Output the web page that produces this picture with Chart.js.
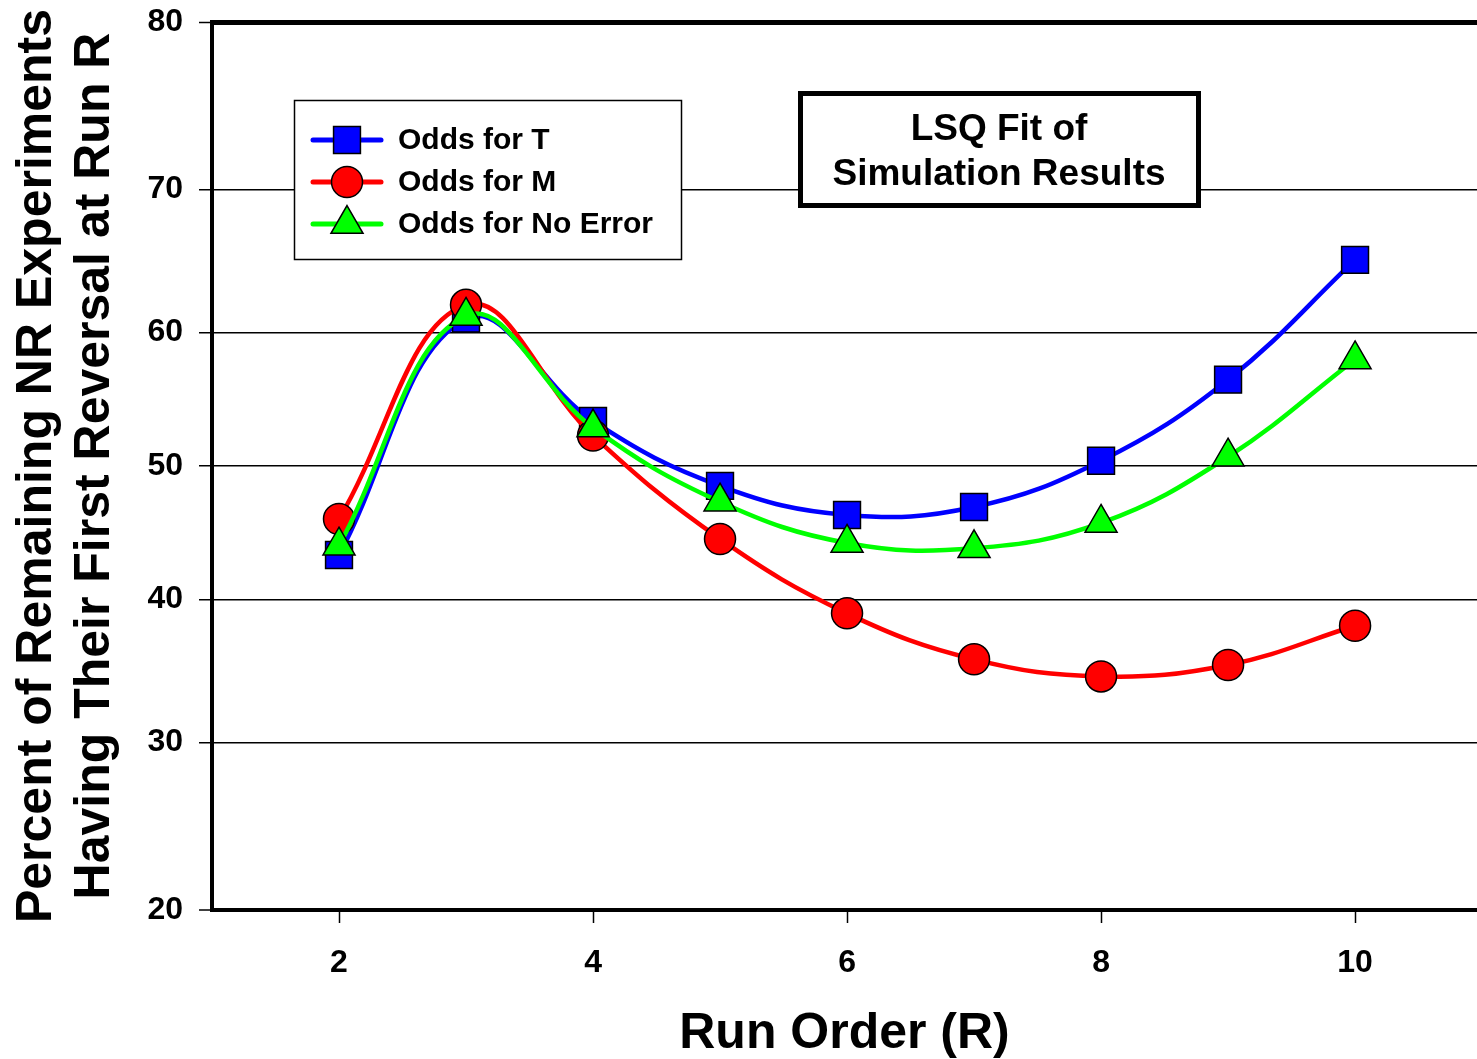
<!DOCTYPE html>
<html>
<head>
<meta charset="utf-8">
<script src="https://cdn.jsdelivr.net/npm/chart.js"></script>
<style>
  html, body { margin: 0; padding: 0; background: #fff; overflow: hidden; }
  #wrap { width: 1477px; height: 1059px; position: relative; }
</style>
</head>
<body>
<div id="wrap"><canvas id="c" width="1477" height="1059"></canvas></div>
<script>
// ---- data ----
const runOrder    = [2, 3, 4, 5, 6, 7, 8, 9, 10];
const oddsT       = [43.3, 61.0, 53.4, 48.5, 46.3, 46.9, 50.4, 56.5, 65.2];
const oddsM       = [46.0, 62.0, 52.3, 44.5, 39.0, 35.7, 34.5, 35.3, 38.1];
const oddsNoError = [44.0, 61.2, 52.9, 47.3, 44.2, 43.8, 45.7, 50.7, 58.0];
const seriesNames = ['Odds for T', 'Odds for M', 'Odds for No Error'];
const xTickValues = [2, 4, 6, 8, 10];
const yTickValues = [20, 30, 40, 50, 60, 70, 80];
const yTitle = ['Percent of Remaining NR Experiments', 'Having Their First Reversal at Run R'];
const xTitle = 'Run Order (R)';
const boxTitle = ['LSQ Fit of', 'Simulation Results'];

const FONT = '"Liberation Sans", Arial, Helvetica, sans-serif';

// ---- probability (probit) scale ----
function probit(p) {
  const a=[-3.969683028665376e+01,2.209460984245205e+02,-2.759285104469687e+02,1.383577518672690e+02,-3.066479806614716e+01,2.506628277459239e+00];
  const b=[-5.447609879822406e+01,1.615858368580409e+02,-1.556989798598866e+02,6.680131188771972e+01,-1.328068155288572e+01];
  const c=[-7.784894002430293e-03,-3.223964580411365e-01,-2.400758277161838e+00,-2.549732539343734e+00,4.374664141464968e+00,2.938163982698783e+00];
  const d=[7.784695709041462e-03,3.224671290700398e-01,2.445134137142996e+00,3.754408661907416e+00];
  const pl = 0.02425, ph = 1 - pl;
  if (p <= 0) return -8; if (p >= 1) return 8;
  let q, r;
  if (p < pl) { q = Math.sqrt(-2*Math.log(p)); return (((((c[0]*q+c[1])*q+c[2])*q+c[3])*q+c[4])*q+c[5])/((((d[0]*q+d[1])*q+d[2])*q+d[3])*q+1); }
  if (p <= ph) { q = p - 0.5; r = q*q; return (((((a[0]*r+a[1])*r+a[2])*r+a[3])*r+a[4])*r+a[5])*q/(((((b[0]*r+b[1])*r+b[2])*r+b[3])*r+b[4])*r+1); }
  q = Math.sqrt(-2*Math.log(1-p));
  return -(((((c[0]*q+c[1])*q+c[2])*q+c[3])*q+c[4])*q+c[5])/((((d[0]*q+d[1])*q+d[2])*q+d[3])*q+1);
}
function normCdf(z) {
  const x = Math.abs(z) / Math.SQRT2;
  const t = 1 / (1 + 0.3275911 * x);
  const y = 1 - (((((1.061405429*t - 1.453152027)*t) + 1.421413741)*t - 0.284496736)*t + 0.254829592)*t*Math.exp(-x*x);
  return z >= 0 ? 0.5*(1+y) : 0.5*(1-y);
}
class ProbitScale extends Chart.LinearScale {
  _pr() { return [probit(this.min/100), probit(this.max/100)]; }
  getPixelForValue(value) {
    const [a, b] = this._pr();
    return this.getPixelForDecimal((probit(value/100) - a) / (b - a));
  }
  getValueForPixel(pixel) {
    const [a, b] = this._pr();
    return 100 * normCdf(a + this.getDecimalForPixel(pixel) * (b - a));
  }
}
ProbitScale.id = 'probit';
ProbitScale.defaults = {};
Chart.register(ProbitScale);

// ---- overlay boxes (legend + note) ----
function drawMarker(ctx, style, radius, x, y) {
  if (Chart.helpers && Chart.helpers.drawPoint) {
    Chart.helpers.drawPoint(ctx, {pointStyle: style, radius: radius, borderWidth: 1.5, rotation: 0}, x, y);
    return;
  }
  ctx.beginPath();
  if (style === 'rect') { const s = radius*Math.SQRT1_2; ctx.rect(x-s, y-s, 2*s, 2*s); }
  else if (style === 'triangle') { ctx.moveTo(x, y-radius); ctx.lineTo(x+radius*0.866, y+radius/2); ctx.lineTo(x-radius*0.866, y+radius/2); ctx.closePath(); }
  else { ctx.arc(x, y, radius, 0, Math.PI*2); }
  ctx.fill(); ctx.stroke();
}
const overlayPlugin = {
  id: 'overlay',
  afterDraw(chart) {
    const ctx = chart.ctx;
    ctx.save();
    // legend
    ctx.fillStyle = '#fff';
    ctx.fillRect(294, 100, 388, 160);
    ctx.lineWidth = 1.5; ctx.strokeStyle = '#000';
    ctx.strokeRect(294.5, 100.5, 387, 159);
    chart.data.datasets.slice().sort((p, q) => p.legendIndex - q.legendIndex).forEach((ds, i) => {
      const y = 140 + 42 * i;
      ctx.beginPath();
      ctx.lineWidth = 5; ctx.lineCap = 'round'; ctx.strokeStyle = ds.borderColor;
      ctx.moveTo(313, y); ctx.lineTo(381, y); ctx.stroke();
      ctx.fillStyle = ds.pointBackgroundColor; ctx.strokeStyle = '#000'; ctx.lineWidth = 1.5;
      drawMarker(ctx, ds.pointStyle, ds.pointRadius, 347, y);
      ctx.fillStyle = '#000';
      ctx.font = 'bold 30px ' + FONT;
      ctx.textAlign = 'left'; ctx.textBaseline = 'middle';
      ctx.fillText(ds.label, 398, y + 1);
    });
    // note box
    ctx.fillStyle = '#fff';
    ctx.fillRect(798, 91, 403, 117);
    ctx.lineWidth = 5; ctx.strokeStyle = '#000';
    ctx.strokeRect(800.5, 93.5, 398, 112);
    ctx.fillStyle = '#000';
    ctx.font = 'bold 37px ' + FONT;
    ctx.textAlign = 'center'; ctx.textBaseline = 'middle';
    ctx.fillText(boxTitle[0], 999, 130);
    ctx.fillText(boxTitle[1], 999, 175);
    ctx.restore();
  }
};

const zeroPad = (s) => { s.paddingTop = 0; s.paddingBottom = 0; s.paddingLeft = 0; s.paddingRight = 0; };

const mk = (label, data, color, style, radius, order, legendIndex) => ({
  label, legendIndex, order,
  data: runOrder.map((x, i) => ({x, y: data[i]})),
  borderColor: color, backgroundColor: color,
  borderWidth: 4.5, tension: 0.4,
  pointStyle: style, pointRadius: radius, pointHoverRadius: radius,
  pointBackgroundColor: color, pointBorderColor: '#000', pointBorderWidth: 1.5,
  clip: false
});

new Chart(document.getElementById('c'), {
  type: 'line',
  data: {
    datasets: [
      mk(seriesNames[0], oddsT, '#0000FF', 'rect', 19, 3, 0),
      mk(seriesNames[1], oddsM, '#FF0000', 'circle', 15.5, 2, 1),
      mk(seriesNames[2], oddsNoError, '#00FF00', 'triangle', 18.5, 1, 2)
    ]
  },
  options: {
    responsive: false,
    animation: false,
    layout: { autoPadding: false, padding: { top: 22, left: 0, right: 0, bottom: 0 } },
    plugins: { legend: { display: false }, tooltip: { enabled: false } },
    scales: {
      x: {
        type: 'linear', min: 1, max: 10.96,
        afterBuildTicks: (s) => { s.ticks = xTickValues.map(v => ({value: v})); },
        afterFit: (s) => { s.height = 149; zeroPad(s); },
        ticks: { color: '#000', font: { family: FONT, size: 32, weight: 'bold' }, padding: 21, maxRotation: 0 },
        grid: { drawOnChartArea: false, drawTicks: true, tickLength: 13, tickWidth: 1.5, tickColor: '#000', color: '#000' },
        border: { display: true, color: '#000', width: 4 },
        title: { display: true, text: xTitle, color: '#000', font: { family: FONT, size: 50, weight: 'bold', lineHeight: 1.0 }, padding: { top: 0, bottom: 0 } }
      },
      y: {
        type: 'probit', min: 20, max: 80,
        afterBuildTicks: (s) => { s.ticks = yTickValues.map(v => ({value: v})); },
        afterFit: (s) => { s.width = 212; zeroPad(s); },
        ticks: { color: '#000', font: { family: FONT, size: 32, weight: 'bold' }, padding: 16, callback: (v) => String(v) },
        grid: {
          color: '#000', tickColor: '#000', tickLength: 13, tickWidth: 1.5,
          lineWidth: (c) => (c.tick && c.tick.value === 80) ? 5 : ((c.tick && c.tick.value === 20) ? 0 : 1.5)
        },
        border: { display: true, color: '#000', width: 4 },
        title: { display: true, text: yTitle, color: '#000', font: { family: FONT, size: 50, weight: 'bold', lineHeight: 1.16 }, padding: { top: 8, bottom: 0 } }
      }
    }
  },
  plugins: [overlayPlugin]
});
</script>
</body>
</html>
